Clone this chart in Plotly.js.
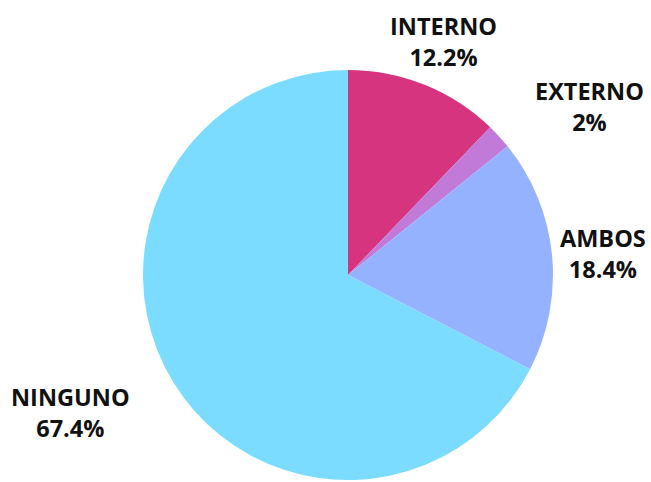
<!DOCTYPE html>
<html>
<head>
<meta charset="utf-8">
<script src="https://cdn.plot.ly/plotly-3.0.1.min.js"></script>
<style>html,body{margin:0;padding:0;background:#fff;}</style>
</head>
<body>
<div id="chart" style="width:651px;height:482px;"></div>
<script>
const categories = ["INTERNO", "EXTERNO", "AMBOS", "NINGUNO"];
const values = [12.2, 2, 18.4, 67.4];
const percentLabels = ["12.2%", "2%", "18.4%", "67.4%"];
const colors = ["#d6347f", "#c27ad9", "#94b2ff", "#7cdcff"];

// layout geometry (pixels)
const W = 651, H = 482;
const cx = 348, cy = 275, R = 205;
const labelRadius = 256;
const labelNudgeX = [0, 53, 0, -59];
const labelShiftY = -4;

const trace = {
  type: "pie",
  labels: categories,
  values: values,
  sort: false,
  direction: "clockwise",
  rotation: 0,
  marker: { colors: colors, line: { width: 0 } },
  textinfo: "none",
  hoverinfo: "none",
  showlegend: false,
  domain: {
    x: [(cx - R) / W, (cx + R) / W],
    y: [(H - (cy + R)) / H, (H - (cy - R)) / H]
  }
};

// label annotations placed along each slice's mid-angle
const total = values.reduce((a, b) => a + b, 0);
let cum = 0;
const annotations = categories.map((cat, i) => {
  const mid = (cum + values[i] / 2) / total * 2 * Math.PI;
  cum += values[i];
  const px = cx + Math.sin(mid) * labelRadius + labelNudgeX[i];
  const py = cy - Math.cos(mid) * labelRadius;
  return {
    xref: "paper", yref: "paper",
    x: px / W, y: 1 - py / H,
    xanchor: "center", yanchor: "middle",
    yshift: labelShiftY,
    showarrow: false,
    align: "center",
    text: cat + "<br>" + percentLabels[i],
    font: { family: "Open Sans", size: 23.5, color: "#111111", weight: "bold" }
  };
});

const layout = {
  width: W,
  height: H,
  margin: { l: 0, r: 0, t: 0, b: 0 },
  paper_bgcolor: "#ffffff",
  showlegend: false,
  annotations: annotations
};

Plotly.newPlot("chart", [trace], layout, { displayModeBar: false, staticPlot: true });
</script>
</body>
</html>
